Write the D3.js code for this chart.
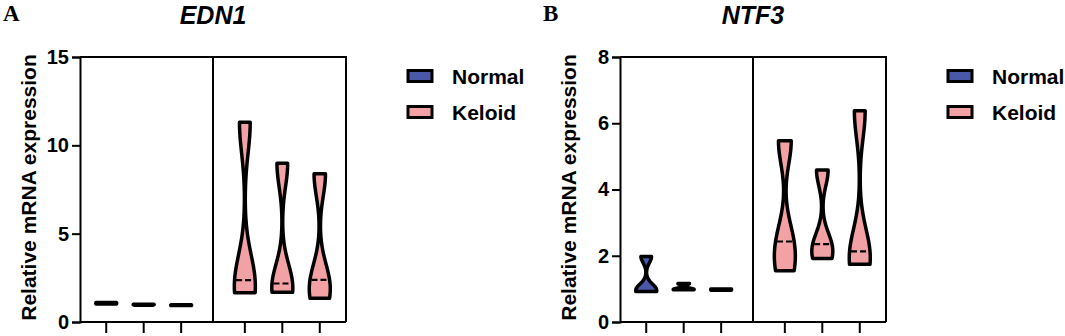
<!DOCTYPE html>
<html>
<head>
<meta charset="utf-8">
<script src="https://cdn.jsdelivr.net/npm/d3@7"></script>
<style>
  body { margin: 0; background: #fff; }
  text { font-family: "Liberation Sans", Arial, sans-serif; font-weight: bold; }
</style>
</head>
<body>
<div id="chart"></div>
<script>
// Groups shown on the x axis (no tick labels in the figure)
var groups = ["Normal 1", "Normal 2", "Normal 3", "Keloid 1", "Keloid 2", "Keloid 3"];
var groupSeries = ["Normal", "Normal", "Normal", "Keloid", "Keloid", "Keloid"];
var seriesNames = ["Normal", "Keloid"];
var seriesColors = ["#4a58a8", "#f2a2a4"];

// Relative expression values per group
var edn1Values = [
	[1.02, 1.06, 1.10],
	[0.95, 0.98, 1.00],
	[0.93, 0.95, 0.97],
	[1.66, 2.37, 11.3],
	[1.68, 2.18, 8.98],
	[1.35, 2.39, 8.39]
];
var ntf3Values = [
	[0.92, 0.98, 1.98],
	[0.97, 1.00, 1.16],
	[0.96, 0.98, 1.00],
	[1.55, 2.43, 5.47],
	[1.92, 2.35, 4.59],
	[1.74, 2.13, 6.38]
];

var edn1Ticks = [0, 5, 10, 15];
var ntf3Ticks = [0, 2, 4, 6, 8];

var svg = d3.select("#chart").append("svg")
	.attr("width", 1065)
	.attr("height", 336);

var margin = {top: 57, left: 80};
var plotW = 266, plotH = 265;

// small gaussian kde, cut at min and max like Prism does
function kde(values) {
	var lo = d3.min(values), hi = d3.max(values);
	var h = Math.max((hi - lo) * 0.18, 0.005);
	return function(v) {
		return d3.sum(values, function(x) { return Math.exp(-0.5 * Math.pow((v - x) / h, 2)); });
	};
}

function violinProfile(values, f) {
	var lo = d3.min(values), hi = d3.max(values);
	var steps = 60;
	return d3.range(steps + 1).map(function(i) {
		var v = lo + (hi - lo) * i / steps;
		return {v: v, d: f(v)};
	});
}

function drawPanel(ox, letter, gene, values, ticks) {
	var g = svg.append("g").attr("transform", "translate(" + ox + ",0)");
	var plot = g.append("g").attr("transform", "translate(" + margin.left + "," + margin.top + ")");

	var y = d3.scaleLinear()
		.domain([0, d3.max(ticks)])
		.range([plotH, 0]);

	// keloid groups sit after a wider gap
	var x = d3.scaleLinear()
		.domain([-0.7, 6.4])
		.range([0, plotW]);
	function xpos(i) { return x(i + (i >= 3 ? 0.7 : 0)); }

	var halfW = 10.5;

	var area = d3.area()
		.curve(d3.curveCatmullRom)
		.y(function(p) { return y(p.v); });

	values.forEach(function(vals, i) {
		var cx = xpos(i);
		var f = kde(vals);
		var prof = violinProfile(vals, f);
		var dmax = d3.max(prof, function(p) { return p.d; });
		area.x0(function(p) { return cx - p.d / dmax * halfW; })
			.x1(function(p) { return cx + p.d / dmax * halfW; });
		plot.append("path")
			.datum(prof)
			.attr("d", area)
			.attr("fill", seriesColors[seriesNames.indexOf(groupSeries[i])])
			.attr("stroke", "#000")
			.attr("stroke-width", 3.5)
			.attr("stroke-linejoin", "round");

		// dashed median
		var med = d3.median(vals);
		var w = f(med) / dmax * halfW;
		if (d3.max(vals) - d3.min(vals) > 0.5 && med - d3.min(vals) > 0.2) {
			plot.append("line")
				.attr("x1", cx - w + 1.5).attr("x2", cx + w - 1.5)
				.attr("y1", y(med)).attr("y2", y(med))
				.attr("stroke", "#000")
				.attr("stroke-width", 2.2)
				.attr("stroke-dasharray", "6,3");
		}
	});

	// frame: top, right, divider
	var divX = (xpos(2) + xpos(3)) / 2;
	plot.append("path")
		.attr("d", "M0,0H" + plotW + "V" + plotH)
		.attr("fill", "none").attr("stroke", "#000").attr("stroke-width", 2);
	plot.append("line")
		.attr("x1", divX).attr("x2", divX).attr("y1", 0).attr("y2", plotH)
		.attr("stroke", "#000").attr("stroke-width", 2);

	// y axis
	var yAxis = plot.append("g")
		.call(d3.axisLeft(y).tickValues(ticks).tickSize(8).tickPadding(3));
	yAxis.select(".domain").attr("stroke-width", 2);
	yAxis.selectAll(".tick line").attr("stroke-width", 2);
	yAxis.selectAll(".tick text")
		.attr("font-size", 20)
		.attr("font-weight", "bold")
		.attr("font-family", "'Liberation Sans', Arial, sans-serif")
		.attr("fill", "#000");

	// x axis: ticks only
	var xTick = d3.scaleOrdinal().domain(groups).range(groups.map(function(d, i) { return xpos(i); }));
	var xAxis = plot.append("g")
		.attr("transform", "translate(0," + plotH + ")")
		.call(d3.axisBottom(x).tickValues([]).tickSizeOuter(0));
	xAxis.select(".domain").attr("d", "M0,0H" + plotW).attr("stroke-width", 2);
	xAxis.selectAll("line.gtick")
		.data(groups)
		.enter().append("line")
		.attr("class", "gtick")
		.attr("x1", function(d) { return xTick(d); })
		.attr("x2", function(d) { return xTick(d); })
		.attr("y1", 0).attr("y2", 11)
		.attr("stroke", "#000").attr("stroke-width", 2);

	// y label
	g.append("text")
		.attr("transform", "translate(36," + (margin.top + plotH / 2 - 2) + ") rotate(-90)")
		.attr("text-anchor", "middle")
		.attr("font-size", 21)
		.text("Relative mRNA expression");

	// title
	g.append("text")
		.attr("x", margin.left + divX)
		.attr("y", 24)
		.attr("text-anchor", "middle")
		.attr("font-size", 25)
		.attr("font-style", "italic")
		.text(gene);

	// panel letter
	g.append("text")
		.attr("x", 3)
		.attr("y", 21)
		.attr("font-size", 23)
		.style("font-family", "'Liberation Serif', 'Times New Roman', serif")
		.text(letter);

	// legend
	var legend = g.append("g").attr("transform", "translate(" + (margin.left + plotW + 62) + ",0)");
	seriesNames.forEach(function(s, i) {
		var ly = 76 + i * 36;
		legend.append("rect")
			.attr("x", 0).attr("y", ly - 5.5)
			.attr("width", 24).attr("height", 11)
			.attr("fill", seriesColors[i])
			.attr("stroke", "#000").attr("stroke-width", 3);
		legend.append("text")
			.attr("x", 44).attr("y", ly + 7.5)
			.attr("font-size", 21)
			.text(s);
	});
}

drawPanel(0, "A", "EDN1", edn1Values, edn1Ticks);
drawPanel(540, "B", "NTF3", ntf3Values, ntf3Ticks);
</script>
</body>
</html>
